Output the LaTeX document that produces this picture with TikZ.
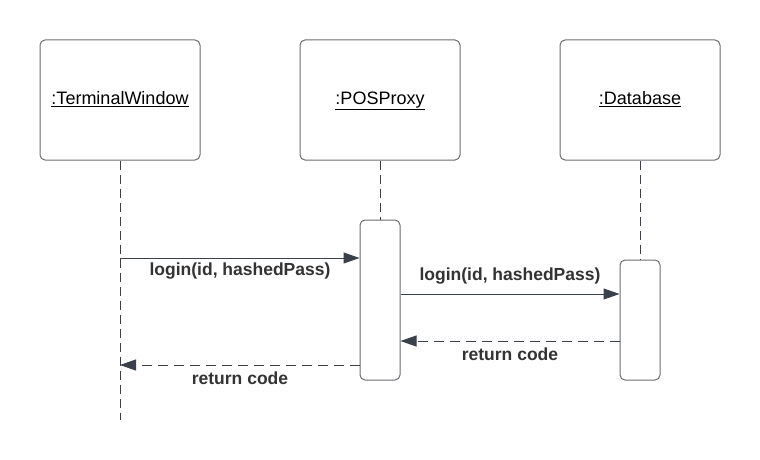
\documentclass[tikz,border=0pt]{standalone}
\usepackage{fontspec}
\setmainfont{Liberation Sans}
\usetikzlibrary{arrows.meta}
\definecolor{boxline}{HTML}{6A6E73}
\definecolor{msgline}{HTML}{3A414A}
\definecolor{txt}{HTML}{333333}
\tikzset{
  x=1pt,y=-1pt,
  objbox/.style={draw=boxline,line width=1pt,rounded corners=5pt,fill=white,minimum width=160pt,minimum height=120pt,inner sep=0pt,text height=13pt,text depth=4pt,font=\fontsize{18}{21}\selectfont,text=black},
  actbox/.style={draw=boxline,line width=1pt,rounded corners=5pt,fill=white,minimum width=40pt,inner sep=0pt},
  lifeline/.style={draw=msgline,line width=0.9pt,dash pattern=on 9pt off 5pt},
  msg/.style={draw=msgline,line width=1pt,-{Triangle[length=16pt,width=11pt]}},
  ret/.style={draw=msgline,line width=1pt,dash pattern=on 10pt off 6pt,-{Triangle[length=16pt,width=11pt]}},
  lbl/.style={font=\fontsize{17.5}{20}\selectfont\bfseries,text=txt,inner sep=0pt}
}
\begin{document}
\begin{tikzpicture}
\useasboundingbox (0,0) rectangle (760,460);
\fill[white] (0,0) rectangle (760,460);
% objects
\node[objbox] (tw) at (120,100) {\underline{:TerminalWindow}};
\node[objbox] (pp) at (380,100) {\underline{:POSProxy}};
\node[objbox] (db) at (640,100) {\underline{:Database}};
% activation boxes
\node[actbox,minimum height=160pt] (ppa) at (380,300) {};
\node[actbox,minimum height=120pt] (dba) at (640,320) {};
\coordinate (twend) at (120,420);
% lifelines
\draw[lifeline] (tw.south) -- (twend);
\draw[lifeline] (pp.south) -- (ppa.north);
\draw[lifeline] (db.south) -- (dba.north);
% messages
\coordinate (m1s) at (120,258);
\draw[msg] (m1s) -- (ppa.west |- m1s);
\node[lbl] (l1) at (240,271) {login(id, hashedPass)};
\coordinate (m2s) at (400,294);
\draw[msg] (ppa.east |- m2s) -- (dba.west |- m2s);
\node[lbl] (l2) at (510,276) {login(id, hashedPass)};
\coordinate (r1s) at (620,341);
\draw[ret] (dba.west |- r1s) -- (ppa.east |- r1s);
\node[lbl] (l3) at (510,354) {return code};
\coordinate (r2s) at (360,365);
\draw[ret] (ppa.west |- r2s) -- (twend |- r2s);
\node[lbl] (l4) at (240,378) {return code};
\end{tikzpicture}
\end{document}
